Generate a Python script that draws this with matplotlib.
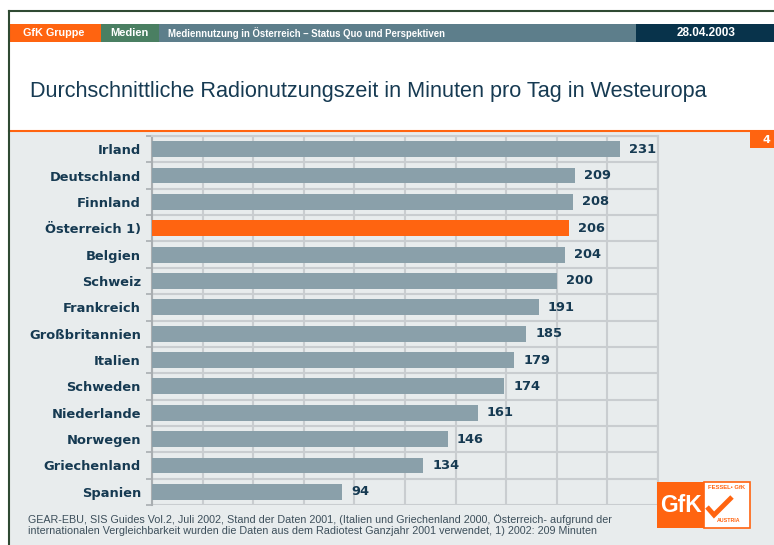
import matplotlib
matplotlib.use("Agg")
import matplotlib.pyplot as plt
from matplotlib.patches import Rectangle
from matplotlib.lines import Line2D

# ---------------- data ----------------
countries = ["Irland", "Deutschland", "Finnland", "Österreich 1)", "Belgien", "Schweiz",
             "Frankreich", "Großbritannien", "Italien", "Schweden", "Niederlande",
             "Norwegen", "Griechenland", "Spanien"]
minutes = [231, 209, 208, 206, 204, 200, 191, 185, 179, 174, 161, 146, 134, 94]
highlight = "Österreich 1)"
x_ticks = list(range(0, 251, 25))

title = "Durchschnittliche Radionutzungszeit in Minuten pro Tag in Westeuropa"
header_items = ["GfK Gruppe", "Medien", "Mediennutzung in Österreich – Status Quo und Perspektiven", "28.04.2003"]
footnote = ("GEAR-EBU, SIS Guides Vol.2, Juli 2002, Stand der Daten 2001, (Italien und Griechenland 2000, Österreich- aufgrund der\n"
            "internationalen Vergleichbarkeit wurden die Daten aus dem Radiotest Ganzjahr 2001 verwendet, 1) 2002: 209 Minuten")
page_no = "4"

# ---------------- style ----------------
W, H = 774, 545
ORANGE = "#FF6410"
GREEN = "#4A7F62"
SLATE = "#5D7E8B"
NAVY = "#08334B"
BAR = "#8AA0AA"
TXT = "#163A52"
BG = "#E8ECED"
GRID = "#C9CDD0"

fig = plt.figure(figsize=(W / 100, H / 100), dpi=100)
fig.patch.set_facecolor("white")


def fx(x):
    return x / W


def fy(y):
    return 1 - y / H


def rect(x0, y0, x1, y1, color, **kw):
    fig.add_artist(Rectangle((fx(x0), fy(y1)), fx(x1) - fx(x0), fy(y0) - fy(y1),
                             transform=fig.transFigure, facecolor=color,
                             edgecolor=kw.pop("edgecolor", "none"), **kw))


# gray page background
rect(9, 132, W, H, BG, zorder=0)
# orange separator line
fig.add_artist(Line2D([fx(9), 1], [fy(131), fy(131)], transform=fig.transFigure,
                      color=ORANGE, lw=1.5))
# frame lines
fig.add_artist(Line2D([fx(9), 1], [fy(11), fy(11)], transform=fig.transFigure, color="#2F4A33", lw=1.5))
fig.add_artist(Line2D([fx(9), fx(9)], [fy(11), 0], transform=fig.transFigure, color="#2F4A33", lw=1.5))

# header bar
hx = [10, 101, 159, 636, W]
hcol = [ORANGE, GREEN, SLATE, NAVY]
for i in range(4):
    rect(hx[i], 24, hx[i + 1], 42, hcol[i])
fig.text(fx(23), fy(33.5), header_items[0], color="white", fontsize=7.8, fontweight="bold",
         family="Liberation Sans", va="center", ha="left")
fig.text(fx(110), fy(33.5), header_items[1], color="white", fontsize=8, fontweight="bold",
         family="Liberation Sans", va="center", ha="left")
fig.text(fx(168), fy(33.5), header_items[2], color="white", fontsize=6.9, fontweight="bold",
         family="Liberation Sans", va="center", ha="left")
fig.text(fx(706), fy(33.5), header_items[3], color="white", fontsize=8.5, fontweight="bold",
         family="Liberation Sans", va="center", ha="center")

# title
fig.text(fx(30), fy(91), title, color=TXT, fontsize=15.6, family="Liberation Sans",
         va="center", ha="left")

# page number box
rect(750, 132, W, 148, ORANGE)
fig.text(fx(766), fy(140), page_no, color="white", fontsize=8, fontweight="bold",
         family="DejaVu Sans", va="center", ha="center")

# ---------------- chart ----------------
ax_l, ax_r, ax_t, ax_b = 152, 658, 136, 505
ax = fig.add_axes([fx(ax_l), fy(ax_b), fx(ax_r) - fx(ax_l), fy(ax_t) - fy(ax_b)])
ax.set_facecolor(BG)
ypos = list(range(len(countries)))
colors = [ORANGE if c == highlight else BAR for c in countries]
ax.barh(ypos, minutes, height=0.6, color=colors, zorder=3)
for y, v in zip(ypos, minutes):
    ax.text(v + 4.5, y, str(v), va="center", ha="left", fontsize=9.4, fontweight="bold",
            color=TXT, family="DejaVu Sans", zorder=4)

ax.set_xlim(0, 250)
ax.set_ylim(len(countries) - 0.5, -0.5)
ax.set_xticks(x_ticks)
ax.tick_params(axis="x", length=0, labelbottom=False)
ax.set_yticks(ypos)
ax.set_yticklabels(countries)
ax.tick_params(axis="y", which="major", length=0, pad=8)
ax.set_yticks([i - 0.5 for i in range(len(countries) + 1)], minor=True)
ax.tick_params(axis="y", which="minor", length=4, width=1.2, color="#A9AEB1", direction="out")
for lab in ax.get_yticklabels():
    lab.set_fontsize(9.4)
    lab.set_fontweight("bold")
    lab.set_color(TXT)
    lab.set_family("DejaVu Sans")
ax.grid(axis="x", which="major", color=GRID, lw=1.5, zorder=1)
ax.grid(axis="y", which="minor", color=GRID, lw=1.5, zorder=1)
ax.set_axisbelow(True)
ax.spines["bottom"].set_visible(False)
ax.spines["top"].set_color(GRID)
ax.spines["top"].set_linewidth(1.5)
ax.spines["right"].set_color(GRID)
ax.spines["right"].set_linewidth(1.5)
ax.spines["left"].set_color("#A9AEB1")
ax.spines["left"].set_linewidth(1.5)

# footnote
fig.text(fx(28), fy(525), footnote, color="#3D4F5B", fontsize=7.75, family="Liberation Sans",
         va="center", ha="left", linespacing=1.1)

# ---------------- logo ----------------
rect(657, 482, 704, 528, ORANGE, zorder=5)
rect(704, 482, 750, 528, "white", edgecolor=ORANGE, lw=1.2, zorder=5)
fig.text(fx(681), fy(506), "GfK", color="white", fontsize=16.5, fontweight="bold",
         family="Liberation Sans", va="center", ha="center", zorder=6)
fig.text(fx(727), fy(487.5), "FESSEL• GfK", color=ORANGE, fontsize=4.2, fontweight="bold",
         family="Liberation Sans", va="center", ha="center", zorder=6)
fig.text(fx(729), fy(521), "AUSTRIA", color=ORANGE, fontsize=3.8, fontweight="bold",
         family="Liberation Sans", va="center", ha="center", zorder=6)
fig.add_artist(Line2D([fx(707), fx(714), fx(732)], [fy(507), fy(515), fy(497)],
                      transform=fig.transFigure, color=ORANGE, lw=3.5,
                      solid_capstyle="butt", solid_joinstyle="miter", zorder=6))

fig.savefig("out.png", dpi=100, facecolor=fig.get_facecolor())
